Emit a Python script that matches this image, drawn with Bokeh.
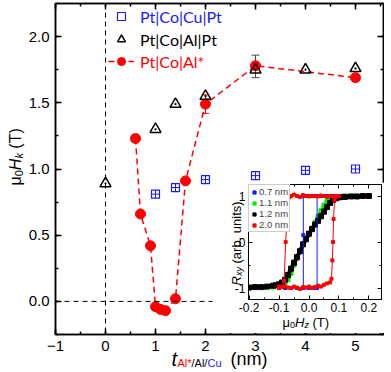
from math import pi
from bokeh.plotting import figure
from bokeh.models import (Range1d, SingleIntervalTicker, LinearAxis, Span, Legend, LegendItem,
                          Label, Whisker, ColumnDataSource, NumeralTickFormatter,
                          CustomJSTickFormatter, TeeHead)
from bokeh.embed import file_html
from bokeh.resources import INLINE

# ---------------- data (main panel) ----------------
cu_t = [1.0, 1.4, 2.0, 3.0, 4.0, 5.0]
cu_hk = [0.81, 0.86, 0.92, 0.95, 0.99, 1.00]
al_t = [0.0, 1.0, 1.4, 2.0, 3.0, 4.0, 5.0]
al_hk = [0.89, 1.30, 1.49, 1.55, 1.75, 1.75, 1.76]
als_t = [0.6, 0.7, 0.9, 1.0, 1.1, 1.2, 1.4, 1.6, 2.0, 3.0, 5.0]
als_hk = [1.23, 0.66, 0.42, -0.04, -0.06, -0.07, 0.02, 0.91, 1.49, 1.78, 1.69]
err_t_red = [2.0]
err_lo_red = [1.42]
err_hi_red = [1.56]
err_t_blk = [3.0]
err_lo_blk = [1.69]
err_hi_blk = [1.86]
series_labels = ["Pt|Co|Cu|Pt", "Pt|Co|Al|Pt", "Pt|Co|Al*"]

# ---------------- data (inset) ----------------
h07 = [-0.10, -0.08, -0.06, -0.04, -0.02, 0.00, 0.02, 0.027, 0.027, 0.04, 0.06, 0.08, 0.10,
       0.08, 0.06, 0.04, 0.02, 0.00, -0.019, -0.019, -0.019, -0.04, -0.06, -0.08, -0.10]
r07 = [-1.0, -1.0, -1.0, -1.0, -1.0, -1.0, -1.0, -1.0, 1.0, 1.0, 1.0, 1.0, 1.0,
       1.0, 1.0, 1.0, 1.0, 1.0, 1.0, 0.15, -1.0, -1.0, -1.0, -1.0, -1.0]

h11 = [-0.20, -0.15, -0.12, -0.10, -0.09, -0.08, -0.07, -0.06, -0.05, -0.04, -0.03, -0.02,
       -0.01, 0.00, 0.01, 0.02, 0.03, 0.04, 0.05, 0.06, 0.07, 0.08, 0.09, 0.10, 0.12, 0.15, 0.20]
r11 = [-1.00, -0.99, -0.98, -0.96, -0.94, -0.90, -0.82, -0.68, -0.50, -0.35, -0.20, -0.06,
       0.06, 0.18, 0.30, 0.42, 0.55, 0.68, 0.80, 0.88, 0.94, 0.97, 0.98, 0.99, 1.00, 1.00, 1.00]

h12 = [-0.20, -0.18, -0.16, -0.14, -0.12, -0.11, -0.10, -0.09, -0.08, -0.07, -0.06, -0.05,
       -0.04, -0.03, -0.02, -0.01, 0.00, 0.01, 0.02, 0.03, 0.04, 0.05, 0.06, 0.07, 0.08,
       0.09, 0.10, 0.11, 0.12, 0.14, 0.16, 0.18, 0.20]
r12 = [-0.99, -0.98, -0.98, -0.97, -0.95, -0.94, -0.92, -0.88, -0.82, -0.72, -0.58, -0.45,
       -0.33, -0.20, -0.05, 0.06, 0.18, 0.28, 0.38, 0.46, 0.56, 0.66, 0.76, 0.85, 0.91,
       0.95, 0.97, 0.98, 0.98, 0.99, 0.99, 1.00, 1.00]

h20 = [-0.10, -0.09, -0.08, -0.07, -0.06, -0.05, -0.04, -0.03, -0.02, -0.01, 0.00, 0.01,
       0.02, 0.03, 0.04, 0.05, 0.06, 0.07, 0.075, 0.078, 0.080, 0.082, 0.085, 0.09, 0.10,
       0.09, 0.08, 0.07, 0.06, 0.05, 0.04, 0.03, 0.02, 0.01, 0.00, -0.01, -0.02, -0.03,
       -0.04, -0.05, -0.06, -0.066, -0.070, -0.073, -0.078, -0.083, -0.09, -0.10]
r20 = [-0.97, -0.98, -0.96, -0.99, -1.00, -0.97, -0.99, -1.02, -0.98, -0.99, -0.97, -1.00,
       -0.98, -0.95, -0.97, -0.93, -0.90, -0.88, -0.80, -0.40, 0.00, 0.50, 0.90, 0.98, 1.00,
       1.00, 0.99, 1.00, 0.98, 1.00, 1.01, 0.99, 1.00, 1.00, 0.99, 1.00, 1.02, 0.98,
       1.00, 1.03, 1.00, 0.97, 0.85, 0.55, 0.00, -0.85, -0.97, -1.00]
inset_labels = ["0.7 nm", "1.1 nm", "1.2 nm", "2.0 nm"]

TF = "Liberation Sans"
LF = "Lato"
BLUE, RED, GREEN = "#1a1aff", "#ff0000", "#00ee00"


def style_axes(fig, xt, yt, fsize, standoff, tin, tmin, xfmt, yfmt, lw):
    for ax in fig.xaxis:
        ax.ticker = xt
        ax.formatter = xfmt
    for ax in fig.yaxis:
        ax.ticker = yt
        ax.formatter = yfmt
    for ax in list(fig.xaxis) + list(fig.yaxis):
        ax.major_tick_in = tin
        ax.major_tick_out = 0
        ax.minor_tick_in = tmin
        ax.minor_tick_out = 0
        ax.axis_line_width = lw
        ax.major_tick_line_width = lw
        ax.minor_tick_line_width = lw
        ax.major_label_text_font = TF
        ax.major_label_text_font_size = f"{fsize}px"
        ax.major_label_text_color = "black"
        ax.major_label_standoff = standoff
    blank = CustomJSTickFormatter(code="return '';")
    for side in ("above", "right"):
        ticker = xt if side == "above" else yt
        ax = LinearAxis(ticker=ticker, formatter=blank, major_label_text_font_size="1px",
                        major_label_standoff=0,
                        major_tick_in=tin, major_tick_out=0, minor_tick_in=tmin, minor_tick_out=0,
                        axis_line_width=lw, major_tick_line_width=lw, minor_tick_line_width=lw)
        fig.add_layout(ax, side)


# ================= main figure (page origin) =================
p = figure(width=384, height=371, x_range=Range1d(-1, 5.56), y_range=Range1d(-0.25, 2.25),
           output_backend="svg", toolbar_location=None,
           min_border_left=55, min_border_right=1, min_border_top=3, min_border_bottom=37)
p.grid.visible = False
p.outline_line_color = "black"
p.outline_line_width = 1.5
p.background_fill_color = "white"
p.border_fill_color = "white"

xfmt = CustomJSTickFormatter(code="return (tick < 0 ? '\u2212' : '') + Math.abs(tick).toFixed(0);")
style_axes(p, SingleIntervalTicker(interval=1, num_minor_ticks=2),
           SingleIntervalTicker(interval=0.5, num_minor_ticks=2),
           15, 6, 6, 3, xfmt, NumeralTickFormatter(format="0.0"), 1.5)

p.add_layout(Span(location=0, dimension="height", line_color="black", line_dash="5 4", line_width=1))
p.add_layout(Span(location=0, dimension="width", line_color="black", line_dash="5 4", line_width=1))

red_line = p.line(als_t, als_hk, line_color=RED, line_dash="6 4", line_width=1.5)

red_src = ColumnDataSource(dict(x=err_t_red, lo=err_lo_red, hi=err_hi_red))
p.add_layout(Whisker(source=red_src, base="x", lower="lo", upper="hi", line_color=RED, line_width=1,
                     upper_head=TeeHead(size=7, line_color=RED), lower_head=TeeHead(size=7, line_color=RED)))

sq = p.scatter(cu_t, cu_hk, marker="square", size=8, line_color=BLUE, fill_alpha=0, line_width=1.2)
p.scatter(cu_t, cu_hk, marker="cross", size=8, line_color=BLUE, line_width=1)

red_pts = p.scatter(als_t, als_hk, marker="circle", size=10, fill_color=RED, line_color=RED)

blk_src = ColumnDataSource(dict(x=err_t_blk, lo=err_lo_blk, hi=err_hi_blk))
p.add_layout(Whisker(source=blk_src, base="x", lower="lo", upper="hi", line_color="#444444", line_width=1,
                     upper_head=TeeHead(size=8, line_color="#444444"),
                     lower_head=TeeHead(size=8, line_color="#444444")))

tri = p.scatter(al_t, al_hk, marker="triangle", size=11, line_color="black", fill_alpha=0, line_width=1.5)
p.scatter(al_t, al_hk, marker="dot", size=9, line_color="black", fill_color="black")

FL, FB = 55, 334
legend_rows = [(series_labels[0], [sq], BLUE, 16), (series_labels[1], [tri], "black", 39),
               (series_labels[2], [red_line, red_pts], RED, 61)]
for text, rends, col, py in legend_rows:
    lg = Legend(items=[LegendItem(label=text, renderers=rends)], location=(121 - 13 - FL, FB - py - 10),
                glyph_width=26, glyph_height=20, label_height=20, label_standoff=6, padding=0,
                margin=0, spacing=0, border_line_alpha=0, background_fill_alpha=0,
                label_text_font=LF, label_text_font_size="16px", label_text_color=col)
    p.add_layout(lg, "center")

# ================= inset =================
ins = figure(width=172, height=151, x_range=Range1d(-0.202, 0.242), y_range=Range1d(-1.25, 1.25),
             output_backend="svg", toolbar_location=None,
             min_border_left=36, min_border_right=3, min_border_top=2, min_border_bottom=34)
ins.styles = {"position": "absolute", "left": "212px", "top": "182px"}
ins.grid.visible = False
ins.outline_line_color = "black"
ins.outline_line_width = 1
ins.background_fill_color = "white"
ins.border_fill_color = "white"
style_axes(ins, SingleIntervalTicker(interval=0.1, num_minor_ticks=2),
           SingleIntervalTicker(interval=1, num_minor_ticks=2),
           12, 3, 4, 2, NumeralTickFormatter(format="0.0"), NumeralTickFormatter(format="0"), 1)

ins.line(h11, r11, line_color=GREEN, line_width=3)
g_pts = ins.scatter(h11, r11, marker="square", size=4, color=GREEN)
ins.line(h12, r12, line_color="black", line_width=4)
k_pts = ins.scatter(h12, r12, marker="square", size=5, color="black")
ins.line(h07, r07, line_color=BLUE, line_width=1)
b_pts = ins.scatter(h07, r07, marker="square", size=3, color=BLUE)
ins.line(h20, r20, line_color=RED, line_width=1)
r_pts = ins.scatter(h20, r20, marker="square", size=3, color=RED)

ileg = Legend(items=[LegendItem(label=inset_labels[0], renderers=[b_pts]),
                     LegendItem(label=inset_labels[1], renderers=[g_pts]),
                     LegendItem(label=inset_labels[2], renderers=[k_pts]),
                     LegendItem(label=inset_labels[3], renderers=[r_pts])],
              location="top_left", glyph_width=8, glyph_height=10, label_height=9, label_standoff=1,
              padding=1, margin=0, spacing=0, border_line_color="#999999", border_line_width=1,
              background_fill_color="white", background_fill_alpha=1,
              label_text_font=TF, label_text_font_size="9.5px")
ins.add_layout(ileg, "center")

# ================= transparent overlay for axis titles =================
OW, OH = 390, 371
DY = 5  # empirical vertical correction of the overlay labels
ov = figure(width=OW, height=OH, x_range=Range1d(0, 1), y_range=Range1d(0, 1),
            output_backend="svg", toolbar_location=None, x_axis_location=None, y_axis_location=None,
            min_border=0, min_border_left=0, min_border_right=0, min_border_top=0, min_border_bottom=0)
ov.styles = {"position": "absolute", "left": "0px", "top": "0px", "pointer-events": "none"}
ov.grid.visible = False
ov.outline_line_color = None
ov.background_fill_alpha = 0
ov.border_fill_alpha = 0


def title_piece(px, py, text, size, color="black", style="normal", angle=0.0):
    ov.add_layout(Label(x=px, y=OH - py + DY, x_units="screen", y_units="screen", text=text,
                        text_font=TF, text_font_size=f"{size}px", text_color=color,
                        text_font_style=style, angle=angle, text_align="left",
                        text_baseline="alphabetic"))


# main y title:  mu0 Hk (T)
title_piece(15, 190, "\u03bc", 16, angle=pi / 2)
title_piece(18, 180.8, "0", 11, angle=pi / 2)
title_piece(15, 174.7, "H", 16, style="italic", angle=pi / 2)
title_piece(18, 163.1, "k", 11, style="italic", angle=pi / 2)
title_piece(15, 153.2, "(T)", 16, angle=pi / 2)

# main x title:  t_{Al*/Al/Cu} (nm)
title_piece(171, 363, "t", 20, style="italic")
title_piece(177, 367, "Al*", 11, color=RED)
title_piece(191, 367, "/Al/", 11)
title_piece(207, 367, "Cu", 11, color=BLUE)
title_piece(230, 363, "(nm)", 18)

# inset x title:  mu0 Hz (T)
title_piece(282, 327, "\u03bc", 13)
title_piece(289.5, 329.5, "0", 9)
title_piece(294.5, 327, "H", 13, style="italic")
title_piece(304, 329.5, "z", 9, style="italic")
title_piece(312, 327, "(T)", 13)

# inset y title:  R_xy (arb. units)
title_piece(236, 290, "R", 13, style="italic", angle=pi / 2)
title_piece(238.5, 280.6, "xy", 9, style="italic", angle=pi / 2)
title_piece(236, 268, "(arb. units)", 13, angle=pi / 2)

open("out.html", "w").write(file_html([p, ins, ov], INLINE))
